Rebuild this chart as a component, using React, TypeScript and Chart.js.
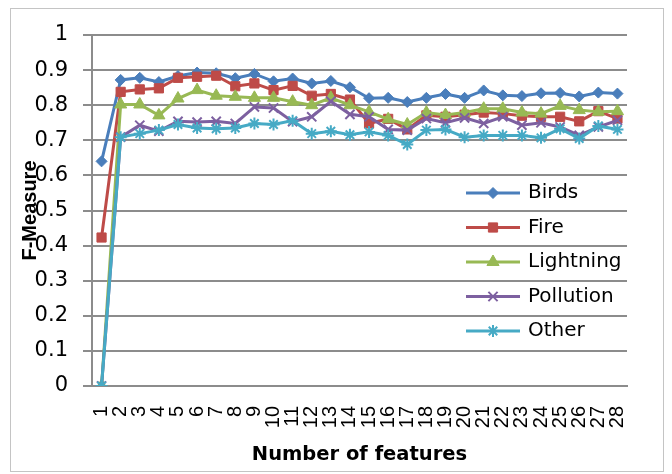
import React, { useEffect, useRef } from 'react';
import { Chart, registerables } from 'chart.js';
import { drawPoint } from 'chart.js/helpers';

Chart.register(...registerables);

// Number of features used (x axis categories)
const featureCounts = [
  '1', '2', '3', '4', '5', '6', '7', '8', '9', '10', '11', '12', '13', '14',
  '15', '16', '17', '18', '19', '20', '21', '22', '23', '24', '25', '26', '27', '28',
];

// F-Measure per class
const birds = [
  0.64, 0.872, 0.878, 0.866, 0.883, 0.893, 0.891, 0.877, 0.889, 0.868, 0.876, 0.862, 0.869, 0.851,
  0.82, 0.821, 0.809, 0.821, 0.832, 0.821, 0.842, 0.828, 0.826, 0.834, 0.835, 0.825, 0.836, 0.833,
];
const fire = [
  0.423, 0.838, 0.845, 0.848, 0.878, 0.881, 0.884, 0.854, 0.862, 0.843, 0.855, 0.827, 0.832, 0.816,
  0.748, 0.761, 0.731, 0.771, 0.767, 0.773, 0.779, 0.776, 0.77, 0.767, 0.767, 0.754, 0.783, 0.762,
];
const lightning = [
  0, 0.802, 0.802, 0.771, 0.819, 0.843, 0.827, 0.824, 0.821, 0.821, 0.81, 0.8, 0.821, 0.8,
  0.781, 0.76, 0.745, 0.779, 0.772, 0.779, 0.79, 0.79, 0.779, 0.776, 0.798, 0.786, 0.781, 0.783,
];
const pollution = [
  0, 0.709, 0.743, 0.726, 0.754, 0.752, 0.754, 0.748, 0.795, 0.792, 0.753, 0.767, 0.811, 0.774,
  0.767, 0.731, 0.729, 0.762, 0.75, 0.764, 0.748, 0.767, 0.743, 0.75, 0.738, 0.714, 0.738, 0.757,
];
const other = [
  0, 0.709, 0.719, 0.729, 0.745, 0.735, 0.733, 0.735, 0.748, 0.745, 0.756, 0.719, 0.726, 0.716,
  0.724, 0.714, 0.688, 0.729, 0.731, 0.709, 0.714, 0.714, 0.714, 0.707, 0.733, 0.705, 0.741, 0.731,
];

const seriesNames = ['Birds', 'Fire', 'Lightning', 'Pollution', 'Other'];
const seriesValues = [birds, fire, lightning, pollution, other];

// Visual style for each series
const seriesColors = ['#4a7ebb', '#be4b48', '#98b954', '#7d60a0', '#46aac5'];
const seriesMarkers = ['rectRot', 'rect', 'triangle', 'crossRot', 'star'];
const markerRadii = [5.5, 6.5, 7, 6.5, 6];
const markerBorders = [1, 1, 1, 2, 2];

const GRID = '#8c8c8c';
const SANS = '"DejaVu Sans", sans-serif';
const LIB = '"Liberation Sans", Arial, sans-serif';

const datasets = seriesNames.map((name, i) => ({
  label: name,
  data: seriesValues[i],
  borderColor: seriesColors[i],
  backgroundColor: seriesColors[i],
  borderWidth: 3,
  pointStyle: seriesMarkers[i],
  pointRadius: markerRadii[i],
  pointBorderWidth: markerBorders[i],
  pointBackgroundColor: seriesColors[i],
  pointBorderColor: seriesColors[i],
  tension: 0,
  order: seriesNames.length - 1 - i,
}));

// White page with a thin light frame around the whole chart
const chartFrame = {
  id: 'chartFrame',
  beforeDraw(chart: any) {
    const { ctx, width, height } = chart;
    ctx.save();
    ctx.fillStyle = '#ffffff';
    ctx.fillRect(0, 0, width, height);
    ctx.strokeStyle = '#c4c4c4';
    ctx.lineWidth = 1;
    ctx.strokeRect(10.5, 8.5, 653, 463);
    ctx.restore();
  },
};

// Legend placed inside the plot area, to the right
const insideLegend = {
  id: 'insideLegend',
  afterDatasetsDraw(chart: any) {
    const { ctx } = chart;
    ctx.save();
    chart.data.datasets.forEach((ds: any, i: number) => {
      const y = 193 + i * 34.5;
      ctx.strokeStyle = ds.borderColor;
      ctx.fillStyle = ds.borderColor;
      ctx.lineWidth = 3;
      ctx.beginPath();
      ctx.moveTo(466, y);
      ctx.lineTo(520, y);
      ctx.stroke();
      ctx.lineWidth = ds.pointBorderWidth;
      drawPoint(ctx, { pointStyle: ds.pointStyle, radius: ds.pointRadius, borderWidth: ds.pointBorderWidth, rotation: 0 }, 493, y);
      ctx.fillStyle = '#000000';
      ctx.font = `20px ${SANS}`;
      ctx.textAlign = 'left';
      ctx.textBaseline = 'middle';
      ctx.fillText(ds.label, 528, y);
    });
    ctx.restore();
  },
};

export default function App() {
  const canvasRef = useRef<HTMLCanvasElement>(null);

  useEffect(() => {
    const chart = new Chart(canvasRef.current as HTMLCanvasElement, {
      type: 'line',
      data: { labels: featureCounts, datasets: datasets as any },
      options: {
        responsive: false,
        animation: false,
        devicePixelRatio: 1,
        layout: { padding: { top: 35, right: 45, left: 0, bottom: 0 } },
        plugins: { legend: { display: false }, tooltip: { enabled: false } },
        scales: {
          x: {
            type: 'category',
            offset: true,
            grid: { display: false, drawTicks: false },
            border: { display: true, color: GRID, width: 2 },
            ticks: {
              autoSkip: false,
              minRotation: 90,
              maxRotation: 90,
              padding: 20,
              color: '#000000',
              font: { family: LIB, size: 20 },
            },
            title: {
              display: true,
              text: 'Number of features',
              color: '#000000',
              font: { family: SANS, size: 19.5, weight: 'bold' },
              padding: { top: 0, bottom: 7 },
            },
            afterFit: (scale: any) => {
              scale.height = 88;
            },
          },
          y: {
            min: 0,
            max: 1,
            ticks: {
              stepSize: 0.1,
              padding: 15,
              color: '#000000',
              font: { family: SANS, size: 21 },
              callback: (v: any) => String(Number(Number(v).toFixed(1))),
            },
            grid: { color: GRID, lineWidth: 2, tickLength: 9, drawTicks: true },
            border: { display: true, color: GRID, width: 2 },
            title: {
              display: true,
              text: 'F-Measure',
              color: '#000000',
              font: { family: LIB, size: 20, weight: 'bold' },
              padding: { top: 18, bottom: 0 },
            },
            afterFit: (scale: any) => {
              scale.width = 92;
            },
          },
        },
      } as any,
      plugins: [chartFrame, insideLegend],
    });
    return () => chart.destroy();
  }, []);

  return (
    <div style={{ position: 'fixed', left: 0, top: 0, width: 672, height: 474 }}>
      <canvas ref={canvasRef} width={672} height={474} />
    </div>
  );
}
